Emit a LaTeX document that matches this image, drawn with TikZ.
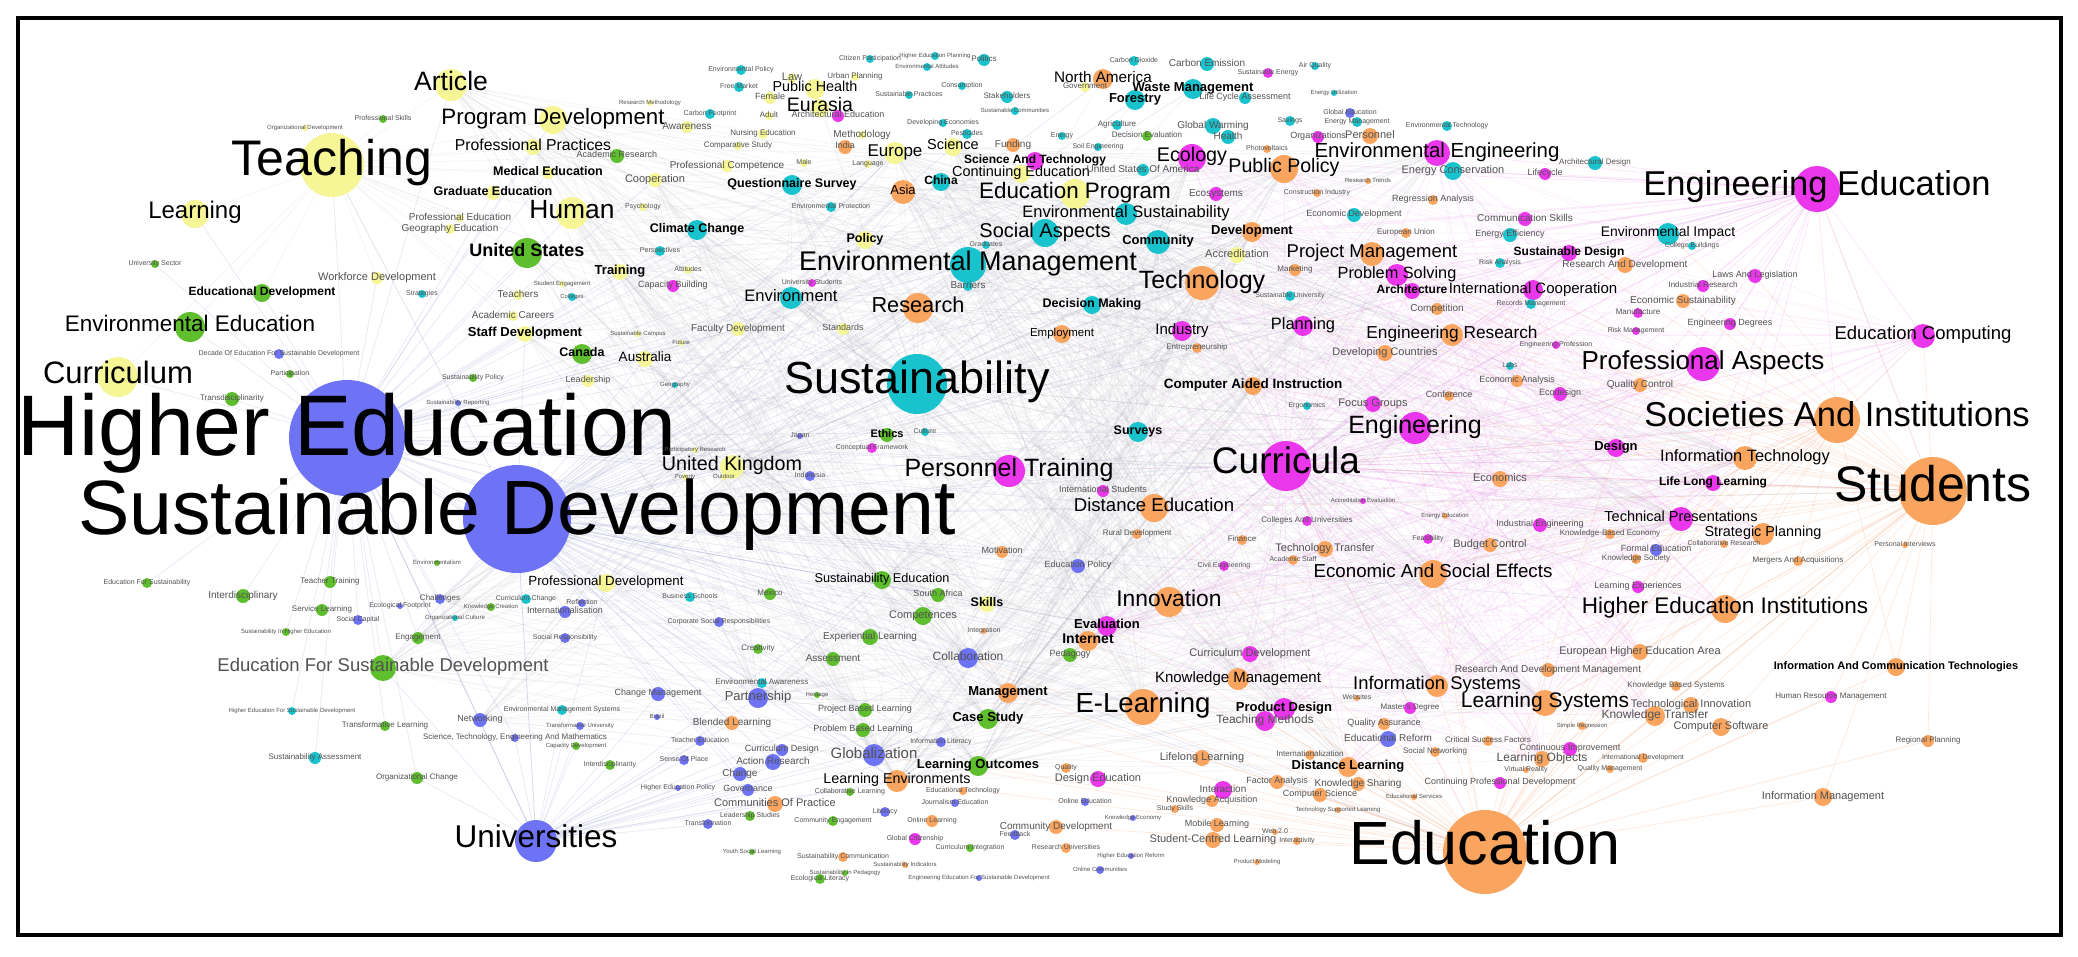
\documentclass[tikz,border=0pt]{standalone}
\usepackage{fontspec}
\setmainfont{Liberation Sans}
\pgfdeclarelayer{edges}
\pgfsetlayers{edges,main}
\definecolor{kbl}{RGB}{110,115,245}
\definecolor{kte}{RGB}{25,195,205}
\definecolor{kma}{RGB}{235,55,235}
\definecolor{kor}{RGB}{250,165,95}
\definecolor{kye}{RGB}{246,246,150}
\definecolor{kgr}{RGB}{95,190,45}
\definecolor{lnb}{RGB}{150,155,210}
\definecolor{lnp}{RGB}{235,140,235}
\definecolor{lno}{RGB}{245,175,130}
\definecolor{lng}{RGB}{165,165,180}
\tikzset{
  dot/.style={circle,inner sep=0pt,outer sep=0pt,draw=none},
  labn/.style={anchor=base,inner sep=0pt,text=black},
  labb/.style={anchor=base,inner sep=0pt,text=black,execute at begin node=\bfseries},
  labg/.style={anchor=base,inner sep=0pt,text=black!68},
  eb/.style={draw=lnb,opacity=0.22,line width=0.7pt},
  ep/.style={draw=lnp,opacity=0.22,line width=0.7pt},
  eo/.style={draw=lno,opacity=0.25,line width=0.7pt},
  eg/.style={draw=lng,opacity=0.13,line width=0.6pt},
  egp/.style={draw=lnp,opacity=0.13,line width=0.6pt},
  frame/.style={draw=black,line width=3.5pt}
}
\newcommand{\kwlist}{%
\kw{n}{HE}{347}{438}{58}{kbl}{86}{Higher Education}
\kw{n}{SD}{517}{519}{54}{kbl}{77}{Sustainable Development}
\kw{n}{Sus}{917}{384}{30}{kte}{45}{Sustainability}
\kw{n}{Teach}{332}{165}{32}{kye}{50}{Teaching}
\kw{n}{Stud}{1933}{491}{34}{kor}{50}{Students}
\kw{n}{Edu}{1485}{852}{42}{kor}{61}{Education}
\kw{n}{Curr}{1286}{466}{25}{kma}{37}{Curricula}
\kw{n}{EngEd}{1817}{189}{23}{kma}{34.5}{Engineering Education}
\kw{n}{Soc}{1837}{420}{23}{kor}{34.5}{Societies And Institutions}
\kw{n}{Univ}{536}{841}{21}{kbl}{31.5}{Universities}
\kw{n}{Curric}{118}{377}{20}{kye}{31}{Curriculum}
\kw{n}{Article}{451}{85}{16}{kye}{26.6}{Article}
\kw{n}{ProgDev}{553}{120}{14}{kye}{22.3}{Program Development}
\kw{n}{ProfPract}{533}{147}{8}{kye}{15.8}{Professional Practices}
\kw{b}{MedEd}{548}{173}{6}{kye}{12.5}{Medical Education}
\kw{b}{GradEd}{493}{193}{7}{kye}{12.5}{Graduate Education}
\kw{n}{Human}{572}{213}{16}{kye}{26.4}{Human}
\kw{n}{Learning}{195}{214}{14}{kye}{24}{Learning}
\kw{g}{ProfEd}{460}{218}{4}{kye}{10}{Professional Education}
\kw{g}{GeoEd}{450}{229}{5}{kye}{10}{Geography Education}
\kw{b}{USA}{527}{253}{15}{kgr}{18}{United States}
\kw{g}{Workforce}{377}{278}{6}{kye}{11}{Workforce Development}
\kw{b}{EduDev}{262}{293}{9}{kgr}{12}{Educational Development}
\kw{n}{EnvEd}{190}{327}{15}{kgr}{22.5}{Environmental Education}
\kw{g}{UniSector}{155}{264}{4}{kgr}{7}{University Sector}
\kw{g}{Strategies}{422}{294}{4}{kte}{7}{Strategies}
\kw{g}{Teachers}{518}{295}{5}{kye}{10}{Teachers}
\kw{g}{AcadCar}{513}{316}{5}{kye}{10}{Academic Careers}
\kw{b}{Staff}{525}{334}{8}{kye}{13}{Staff Development}
\kw{g}{ProfSkills}{383}{119}{4}{kgr}{7}{Professional Skills}
\kw{g}{OrgDev}{305}{128}{3}{kye}{6}{Organizational Development}
\kw{g}{Decade}{279}{354}{5}{kbl}{7}{Decade Of Education For Sustainable Development}
\kw{g}{Particip}{290}{374}{4}{kgr}{7}{Participation}
\kw{g}{Transdisc}{232}{399}{7}{kgr}{8}{Transdisciplinarity}
\kw{g}{SustPolicy}{473}{378}{4}{kgr}{7}{Sustainability Policy}
\kw{g}{SustRep}{458}{403}{3}{kbl}{6}{Sustainability Reporting}
\kw{g}{Envism}{437}{563}{3}{kgr}{6}{Environmentalism}
\kw{g}{EdForSust}{147}{583}{5}{kgr}{7}{Education For Sustainability}
\kw{g}{TeacherTr}{330}{582}{6}{kgr}{8}{Teacher Training}
\kw{g}{Interdisc}{243}{596}{7}{kgr}{10}{Interdisciplinary}
\kw{g}{Challenges}{440}{599}{5}{kbl}{8}{Challenges}
\kw{g}{EcoFoot}{400}{606}{3}{kbl}{7}{Ecological Footprint}
\kw{g}{ServLearn}{322}{610}{6}{kgr}{8}{Service Learning}
\kw{g}{CurrChange}{526}{599}{5}{kte}{7}{Curriculum Change}
\kw{g}{KnowCre}{491}{607}{4}{kgr}{6}{Knowledge Creation}
\kw{g}{OrgCult}{455}{618}{3}{kte}{6}{Organizational Culture}
\kw{g}{SustHE}{286}{632}{4}{kgr}{6}{Sustainability In Higher Education}
\kw{g}{SocCap}{358}{620}{5}{kbl}{7}{Social Capital}
\kw{g}{Engage}{418}{638}{6}{kgr}{8}{Engagement}
\kw{g}{ESD}{383}{668}{13}{kgr}{18.5}{Education For Sustainable Development}
\kw{g}{HESD}{292}{711}{4}{kte}{6}{Higher Education For Sustainable Development}
\kw{g}{TransLearn}{385}{726}{5}{kgr}{8}{Transformative Learning}
\kw{g}{Networking}{480}{720}{7}{kbl}{9}{Networking}
\kw{g}{STEM}{515}{738}{4}{kbl}{8}{Science, Technology, Engineering And Mathematics}
\kw{g}{SustAssess}{315}{758}{6}{kte}{8}{Sustainability Assessment}
\kw{g}{OrgChange}{417}{778}{6}{kgr}{8}{Organizational Change}
\kw{g}{ResMeth}{650}{103}{3}{kye}{6}{Research Methodology}
\kw{g}{Awareness}{687}{127}{6}{kye}{10}{Awareness}
\kw{g}{CarbonFoot}{710}{114}{5}{kte}{7}{Carbon Footprint}
\kw{g}{AcadRes}{617}{156}{7}{kgr}{9}{Academic Research}
\kw{g}{NursEd}{763}{134}{5}{kye}{8}{Nursing Education}
\kw{g}{CompStudy}{738}{146}{4}{kye}{8}{Comparative Study}
\kw{g}{ProfComp}{727}{166}{6}{kye}{10}{Professional Competence}
\kw{g}{Male}{804}{163}{4}{kye}{7}{Male}
\kw{g}{Cooperation}{655}{180}{7}{kye}{11}{Cooperation}
\kw{g}{Psychology}{643}{207}{4}{kye}{7}{Psychology}
\kw{b}{ClimCh}{697}{230}{10}{kte}{12.5}{Climate Change}
\kw{g}{Perspect}{660}{251}{5}{kte}{7}{Perspectives}
\kw{b}{Training}{620}{272}{8}{kye}{13}{Training}
\kw{g}{Attitudes}{688}{270}{4}{kye}{7}{Attitudes}
\kw{g}{CapBuild}{673}{286}{6}{kma}{9}{Capacity Building}
\kw{g}{StudEng}{562}{284}{3}{kye}{6}{Student Engagement}
\kw{g}{Colleges}{572}{297}{4}{kte}{6}{Colleges}
\kw{g}{EnvPolicy}{741}{70}{5}{kte}{7}{Environmental Policy}
\kw{g}{FreeMarket}{739}{87}{5}{kte}{7}{Free Market}
\kw{g}{Law}{792}{78}{5}{kye}{11}{Law}
\kw{n}{PubHealth}{815}{89}{10}{kye}{14.4}{Public Health}
\kw{g}{Female}{770}{98}{6}{kye}{9}{Female}
\kw{n}{Eurasia}{820}{108}{9}{kye}{19.5}{Eurasia}
\kw{g}{Adult}{769}{116}{4}{kye}{8}{Adult}
\kw{g}{ArchEd}{838}{116}{6}{kma}{9}{Architectural Education}
\kw{g}{UrbanPlan}{855}{77}{4}{kye}{8}{Urban Planning}
\kw{g}{Methodology}{862}{135}{4}{kye}{10}{Methodology}
\kw{g}{India}{845}{147}{7}{kor}{9}{India}
\kw{n}{Europe}{895}{153}{11}{kye}{17}{Europe}
\kw{g}{Language}{868}{164}{4}{kye}{7}{Language}
\kw{n}{Science}{953}{147}{9}{kye}{14.5}{Science}
\kw{g}{Funding}{1013}{145}{7}{kor}{10}{Funding}
\kw{b}{QS}{792}{185}{10}{kte}{12.5}{Questionnaire Survey}
\kw{n}{Asia}{903}{192}{12}{kor}{13}{Asia}
\kw{b}{China}{941}{182}{9}{kte}{12}{China}
\kw{b}{SciTech}{1035}{161}{9}{kma}{12}{Science And Technology}
\kw{n}{ContEd}{1021}{174}{9}{kye}{14.5}{Continuing Education}
\kw{n}{EduProg}{1075}{194}{15}{kye}{22.4}{Education Program}
\kw{g}{EnvProt}{831}{207}{5}{kte}{7}{Environmental Protection}
\kw{b}{Policy}{865}{240}{9}{kye}{12.5}{Policy}
\kw{n}{SocAsp}{1045}{233}{14}{kte}{20}{Social Aspects}
\kw{n}{EnvSust}{1126}{214}{11}{kte}{16.5}{Environmental Sustainability}
\kw{g}{Graduates}{986}{245}{4}{kte}{7}{Graduates}
\kw{n}{EnvMgmt}{968}{265}{18}{kte}{27}{Environmental Management}
\kw{g}{UniStud}{812}{283}{4}{kma}{7}{University Students}
\kw{g}{Barriers}{968}{286}{5}{kte}{10}{Barriers}
\kw{n}{Environment}{791}{298}{11}{kte}{16.6}{Environment}
\kw{n}{Research}{918}{308}{15}{kor}{21.7}{Research}
\kw{g}{Citizen}{870}{59}{4}{kte}{7}{Citizen Participation}
\kw{g}{HEPlan}{935}{56}{4}{kte}{6}{Higher Education Planning}
\kw{g}{Politics}{984}{60}{6}{kte}{8}{Politics}
\kw{g}{EnvAtt}{927}{67}{4}{kte}{6}{Environmental Attitudes}
\kw{g}{Consump}{962}{86}{4}{kte}{7}{Consumption}
\kw{g}{SustPract}{909}{95}{4}{kte}{7}{Sustainable Practices}
\kw{g}{Stakeh}{1007}{97}{6}{kte}{8}{Stakeholders}
\kw{g}{SustComm}{1015}{111}{4}{kte}{6}{Sustainable Communities}
\kw{g}{DevEcon}{943}{123}{4}{kte}{7}{Developing Economies}
\kw{g}{Pesticides}{967}{134}{5}{kte}{7}{Pesticides}
\kw{n}{NorthAm}{1103}{79}{10}{kor}{15.3}{North America}
\kw{g}{CO2}{1134}{61}{5}{kte}{7}{Carbon Dioxide}
\kw{g}{CarbonEm}{1207}{64}{7}{kte}{10}{Carbon Emission}
\kw{g}{Govt}{1085}{87}{5}{kye}{8}{Government}
\kw{b}{WasteMgmt}{1193}{89}{10}{kte}{13}{Waste Management}
\kw{b}{Forestry}{1135}{100}{10}{kte}{13}{Forestry}
\kw{g}{LCA}{1245}{98}{6}{kte}{9}{Life Cycle Assessment}
\kw{g}{SustEnergy}{1268}{73}{5}{kma}{7}{Sustainable Energy}
\kw{g}{AirQual}{1315}{66}{4}{kte}{7}{Air Quality}
\kw{g}{EnergyUtil}{1334}{93}{3}{kte}{6}{Energy Utilization}
\kw{g}{Agri}{1117}{125}{5}{kte}{8}{Agriculture}
\kw{g}{GlobWarm}{1213}{126}{8}{kte}{10}{Global Warming}
\kw{g}{Savings}{1290}{121}{5}{kte}{7}{Savings}
\kw{g}{GlobEd}{1350}{113}{5}{kbl}{7}{Global Education}
\kw{g}{EnergyMgmt}{1357}{122}{5}{kte}{7}{Energy Management}
\kw{g}{EnvTech}{1447}{126}{5}{kte}{7}{Environmental Technology}
\kw{g}{Energy}{1062}{136}{4}{kte}{7}{Energy}
\kw{g}{DecEval}{1147}{136}{5}{kgr}{8}{Decision Evaluation}
\kw{g}{Health}{1228}{137}{7}{kte}{10}{Health}
\kw{g}{Organiz}{1318}{137}{6}{kma}{9}{Organizations}
\kw{g}{Personnel}{1370}{136}{8}{kor}{11}{Personnel}
\kw{g}{SoilEng}{1098}{147}{4}{kte}{7}{Soil Engineering}
\kw{g}{Photov}{1267}{149}{4}{kor}{7}{Photovoltaics}
\kw{n}{Ecology}{1192}{158}{14}{kma}{19.7}{Ecology}
\kw{n}{PubPol}{1284}{169}{14}{kor}{19.6}{Public Policy}
\kw{g}{USOA}{1143}{170}{6}{kte}{10}{United States Of America}
\kw{n}{EnvEng}{1437}{153}{13}{kma}{20.4}{Environmental Engineering}
\kw{g}{EnergyCons}{1453}{171}{9}{kte}{11}{Energy Conservation}
\kw{g}{Lifecycle}{1545}{174}{6}{kma}{9}{Lifecycle}
\kw{g}{ResTrends}{1368}{181}{3}{kor}{6}{Research Trends}
\kw{g}{Ecosys}{1216}{194}{7}{kma}{10}{Ecosystems}
\kw{g}{ConstrInd}{1317}{193}{4}{kor}{7}{Construction Industry}
\kw{g}{Regression}{1433}{200}{5}{kor}{9}{Regression Analysis}
\kw{g}{EconDev}{1354}{215}{7}{kte}{9}{Economic Development}
\kw{g}{CommSkills}{1525}{219}{7}{kma}{10}{Communication Skills}
\kw{g}{EnergyEff}{1510}{235}{7}{kte}{9}{Energy Efficiency}
\kw{g}{EU}{1406}{233}{5}{kor}{8}{European Union}
\kw{b}{Devel}{1252}{232}{10}{kor}{13}{Development}
\kw{b}{Community}{1158}{242}{12}{kte}{13}{Community}
\kw{g}{Accred}{1237}{255}{8}{kye}{11}{Accreditation}
\kw{n}{ProjMgmt}{1372}{254}{12}{kor}{18.5}{Project Management}
\kw{g}{Marketing}{1295}{270}{6}{kor}{8}{Marketing}
\kw{n}{Tech}{1202}{283}{17}{kor}{25}{Technology}
\kw{n}{ProbSolv}{1397}{275}{11}{kma}{16.3}{Problem Solving}
\kw{b}{Architecture}{1412}{291}{8}{kma}{12}{Architecture}
\kw{n}{IntCoop}{1533}{290}{10}{kma}{15}{International Cooperation}
\kw{b}{SustDesign}{1569}{253}{8}{kma}{12}{Sustainable Design}
\kw{g}{RiskAn}{1500}{263}{5}{kte}{7}{Risk Analysis}
\kw{g}{SustUniv}{1290}{296}{5}{kte}{7}{Sustainable University}
\kw{b}{DecMaking}{1092}{305}{9}{kte}{12.5}{Decision Making}
\kw{g}{Competition}{1437}{309}{6}{kor}{10}{Competition}
\kw{g}{RecMgmt}{1531}{304}{5}{kte}{7}{Records Management}
\kw{g}{ArchDesign}{1595}{163}{7}{kte}{8}{Architectural Design}
\kw{n}{EnvImpact}{1668}{234}{11}{kte}{13.9}{Environmental Impact}
\kw{g}{CollBuild}{1692}{246}{4}{kte}{7}{College Buildings}
\kw{g}{RnD}{1625}{265}{8}{kor}{10}{Research And Development}
\kw{g}{LawsLeg}{1755}{276}{7}{kma}{9}{Laws And Legislation}
\kw{g}{IndRes}{1703}{286}{6}{kma}{8}{Industrial Research}
\kw{g}{EconSust}{1683}{301}{7}{kor}{10}{Economic Sustainability}
\kw{g}{Manuf}{1638}{313}{5}{kma}{8}{Manufacture}
\kw{g}{FacDev}{738}{329}{7}{kye}{10}{Faculty Development}
\kw{g}{Standards}{843}{329}{6}{kye}{9}{Standards}
\kw{g}{SustCampus}{638}{334}{3}{kye}{6}{Sustainable Campus}
\kw{g}{Future}{681}{343}{3}{kye}{6}{Future}
\kw{b}{Canada}{582}{354}{10}{kgr}{12.5}{Canada}
\kw{n}{Australia}{645}{359}{8}{kye}{13.5}{Australia}
\kw{g}{Leadership}{588}{381}{6}{kye}{9}{Leadership}
\kw{g}{Geography}{675}{385}{3}{kte}{6}{Geography}
\kw{n}{Employment}{1062}{334}{9}{kor}{11.5}{Employment}
\kw{n}{Industry}{1182}{331}{10}{kma}{15}{Industry}
\kw{n}{Planning}{1303}{326}{10}{kma}{16.5}{Planning}
\kw{n}{EngRes}{1452}{335}{11}{kor}{17.3}{Engineering Research}
\kw{g}{Entrep}{1197}{348}{5}{kor}{8}{Entrepreneurship}
\kw{g}{DevCountries}{1385}{353}{8}{kor}{11}{Developing Countries}
\kw{g}{Labs}{1510}{366}{4}{kte}{7}{Labs}
\kw{g}{EngProf}{1556}{345}{4}{kma}{7}{Engineering Profession}
\kw{g}{RiskMgmt}{1636}{331}{4}{kma}{7}{Risk Management}
\kw{g}{EngDeg}{1730}{324}{6}{kma}{9}{Engineering Degrees}
\kw{n}{EduComp}{1923}{336}{12}{kma}{18.5}{Education Computing}
\kw{n}{ProfAsp}{1703}{364}{17}{kma}{26}{Professional Aspects}
\kw{b}{CAI}{1253}{386}{9}{kor}{13.5}{Computer Aided Instruction}
\kw{g}{EconAn}{1517}{381}{6}{kor}{9}{Economic Analysis}
\kw{g}{QC}{1640}{385}{7}{kor}{10}{Quality Control}
\kw{g}{Ecodesign}{1560}{394}{7}{kma}{9}{Ecodesign}
\kw{g}{Ergonomics}{1307}{406}{4}{kte}{7}{Ergonomics}
\kw{g}{FocusGr}{1373}{404}{8}{kma}{11}{Focus Groups}
\kw{g}{Conference}{1449}{396}{5}{kor}{9}{Conference}
\kw{n}{Eng}{1415}{428}{16}{kma}{25}{Engineering}
\kw{b}{Surveys}{1138}{432}{10}{kte}{12.5}{Surveys}
\kw{b}{Ethics}{887}{435}{7}{kgr}{11}{Ethics}
\kw{g}{Culture}{925}{432}{4}{kte}{7}{Culture}
\kw{g}{Japan}{800}{436}{3}{kbl}{7}{Japan}
\kw{g}{ConcFrame}{872}{448}{5}{kma}{7}{Conceptual Framework}
\kw{b}{Design}{1616}{448}{9}{kma}{13}{Design}
\kw{n}{InfoTech}{1745}{458}{12}{kor}{16.4}{Information Technology}
\kw{n}{UK}{732}{467}{12}{kye}{19.7}{United Kingdom}
\kw{g}{Particip2}{695}{450}{3}{kye}{6}{Participatory Research}
\kw{g}{Poverty}{685}{477}{3}{kye}{6}{Poverty}
\kw{g}{Outdoor}{724}{477}{3}{kye}{6}{Outdoor}
\kw{g}{Indonesia}{810}{476}{5}{kbl}{7}{Indonesia}
\kw{n}{PersTr}{1009}{471}{16}{kma}{25}{Personnel Training}
\kw{g}{Economics}{1500}{479}{8}{kor}{11}{Economics}
\kw{b}{LLL}{1713}{483}{8}{kma}{12}{Life Long Learning}
\kw{g}{IntStud}{1103}{491}{6}{kma}{9}{International Students}
\kw{n}{DistEd}{1154}{508}{14}{kor}{18.6}{Distance Education}
\kw{g}{AccEval}{1363}{501}{3}{kma}{6}{Accreditation Evaluation}
\kw{g}{EnergyEd}{1445}{516}{3}{kor}{6}{Energy Education}
\kw{g}{CollUni}{1307}{521}{5}{kma}{8}{Colleges And Universities}
\kw{g}{IndEng}{1540}{525}{7}{kma}{9}{Industrial Engineering}
\kw{n}{TechPres}{1681}{519}{12}{kma}{14.5}{Technical Presentations}
\kw{n}{StratPlan}{1763}{534}{11}{kor}{14.4}{Strategic Planning}
\kw{g}{KBE}{1610}{534}{5}{kor}{8}{Knowledge-Based Economy}
\kw{g}{CollabRes}{1724}{544}{4}{kor}{7}{Collaborative Research}
\kw{g}{FormalEd}{1656}{550}{6}{kbl}{9}{Formal Education}
\kw{g}{KnowSoc}{1636}{559}{5}{kor}{8}{Knowledge Society}
\kw{g}{Mergers}{1798}{561}{5}{kor}{8}{Mergers And Acquisitions}
\kw{g}{PersInt}{1905}{545}{3}{kor}{7}{Personal Interviews}
\kw{g}{RuralDev}{1137}{534}{5}{kor}{8}{Rural Development}
\kw{g}{Finance}{1242}{540}{5}{kor}{8}{Finance}
\kw{g}{Feasib}{1428}{539}{5}{kma}{7}{Feasibility}
\kw{g}{BudgetCtrl}{1490}{545}{7}{kor}{11}{Budget Control}
\kw{g}{TechTransfer}{1325}{549}{8}{kor}{11}{Technology Transfer}
\kw{g}{AcadStaff}{1293}{560}{5}{kor}{7}{Academic Staff}
\kw{g}{CivilEng}{1224}{566}{5}{kma}{7}{Civil Engineering}
\kw{g}{EduPolicy}{1078}{566}{7}{kbl}{9}{Education Policy}
\kw{g}{Motivation}{1002}{552}{6}{kor}{9}{Motivation}
\kw{n}{EconSoc}{1433}{574}{14}{kor}{18.7}{Economic And Social Effects}
\kw{g}{LearnExp}{1638}{587}{6}{kma}{9}{Learning Experiences}
\kw{n}{HEI}{1725}{609}{14}{kor}{22.5}{Higher Education Institutions}
\kw{n}{SusEd}{882}{580}{9}{kgr}{12.7}{Sustainability Education}
\kw{n}{ProfDev}{606}{583}{9}{kye}{13.3}{Professional Development}
\kw{g}{SouthAfrica}{938}{595}{7}{kgr}{9}{South Africa}
\kw{b}{Skills}{987}{604}{8}{kye}{12.5}{Skills}
\kw{g}{Competences}{923}{616}{9}{kgr}{11}{Competences}
\kw{g}{BusSchools}{690}{597}{5}{kte}{7}{Business Schools}
\kw{g}{Mexico}{770}{594}{6}{kgr}{8}{Mexico}
\kw{g}{Reflection}{582}{603}{4}{kbl}{7}{Reflection}
\kw{g}{Internat}{565}{612}{6}{kbl}{9}{Internationalisation}
\kw{g}{CSR}{719}{622}{5}{kbl}{7}{Corporate Social Responsibilities}
\kw{g}{Integration}{984}{631}{3}{kor}{7}{Integration}
\kw{n}{Innov}{1169}{602}{15}{kor}{22.8}{Innovation}
\kw{b}{Evaluation}{1107}{626}{10}{kma}{13}{Evaluation}
\kw{b}{Internet}{1088}{641}{10}{kor}{14}{Internet}
\kw{g}{Pedagogy}{1070}{655}{7}{kgr}{9}{Pedagogy}
\kw{g}{ExpLearn}{870}{637}{8}{kgr}{10}{Experiential Learning}
\kw{g}{SocResp}{565}{638}{5}{kbl}{7}{Social Responsibility}
\kw{g}{Creativity}{758}{649}{5}{kgr}{8}{Creativity}
\kw{g}{Assessment}{833}{659}{7}{kgr}{10}{Assessment}
\kw{g}{Collab}{968}{658}{10}{kbl}{12}{Collaboration}
\kw{g}{CurrDev}{1250}{654}{8}{kma}{11}{Curriculum Development}
\kw{n}{KnowMgmt}{1238}{679}{11}{kor}{15}{Knowledge Management}
\kw{g}{EHEA}{1640}{652}{8}{kor}{11}{European Higher Education Area}
\kw{g}{RDM}{1548}{670}{7}{kor}{10}{Research And Development Management}
\kw{b}{ICT}{1896}{667}{9}{kor}{11}{Information And Communication Technologies}
\kw{n}{InfoSys}{1437}{686}{11}{kor}{18.4}{Information Systems}
\kw{g}{KBS}{1676}{686}{5}{kor}{8}{Knowledge Based Systems}
\kw{b}{Management}{1008}{693}{10}{kor}{13}{Management}
\kw{g}{EnvAware}{762}{683}{5}{kte}{8}{Environmental Awareness}
\kw{g}{ChangeMgmt}{658}{694}{7}{kbl}{9}{Change Management}
\kw{g}{Partnership}{758}{698}{10}{kbl}{13}{Partnership}
\kw{g}{Heritage}{817}{695}{3}{kgr}{6}{Heritage}
\kw{g}{HRM}{1831}{697}{6}{kma}{8}{Human Resource Management}
\kw{n}{Elearn}{1143}{707}{18}{kor}{27.6}{E-Learning}
\kw{b}{ProdDesign}{1284}{709}{11}{kma}{13}{Product Design}
\kw{n}{LearnSys}{1545}{703}{13}{kor}{21}{Learning Systems}
\kw{g}{Websites}{1357}{698}{3}{kor}{7}{Websites}
\kw{g}{MastersDeg}{1410}{708}{6}{kma}{8}{Master's Degree}
\kw{g}{TechInnov}{1691}{705}{8}{kor}{11}{Technological Innovation}
\kw{g}{KnowTrans}{1655}{716}{10}{kor}{12}{Knowledge Transfer}
\kw{g}{CompSoft}{1721}{727}{9}{kor}{11}{Computer Software}
\kw{g}{SimpleReg}{1582}{726}{4}{kor}{6}{Simple Regression}
\kw{g}{EnvMgmtSys}{562}{710}{5}{kte}{7}{Environmental Management Systems}
\kw{b}{CaseStudy}{988}{719}{10}{kgr}{13}{Case Study}
\kw{g}{Brazil}{657}{717}{3}{kbl}{6}{Brazil}
\kw{g}{PBL}{865}{710}{7}{kgr}{9}{Project Based Learning}
\kw{g}{BlendLearn}{732}{723}{7}{kor}{10}{Blended Learning}
\kw{g}{TeachMeth}{1265}{721}{10}{kma}{12}{Teaching Methods}
\kw{g}{QA}{1384}{724}{6}{kor}{9}{Quality Assurance}
\kw{g}{TransUni}{580}{726}{4}{kbl}{6}{Transformative University}
\kw{g}{PrBL}{863}{730}{7}{kgr}{9}{Problem Based Learning}
\kw{g}{EdReform}{1388}{739}{8}{kbl}{10}{Educational Reform}
\kw{g}{CSF}{1488}{741}{5}{kor}{8}{Critical Success Factors}
\kw{g}{RegPlan}{1928}{741}{6}{kor}{8}{Regional Planning}
\kw{g}{TeacherEd}{700}{741}{5}{kbl}{7}{Teacher Education}
\kw{g}{InfoLit}{941}{742}{5}{kbl}{7}{Information Literacy}
\kw{g}{CapDev}{576}{746}{4}{kgr}{6}{Capacity Development}
\kw{g}{ContImp}{1570}{749}{7}{kma}{9}{Continuous Improvement}
\kw{g}{CurrDesign}{782}{750}{6}{kbl}{9}{Curriculum Design}
\kw{g}{SocNet}{1435}{752}{5}{kor}{8}{Social Networking}
\kw{g}{Globaliz}{874}{755}{11}{kbl}{15}{Globalization}
\kw{g}{IntlDev}{1643}{758}{5}{kor}{7}{International Development}
\kw{g}{Internationalization}{1310}{755}{5}{kor}{8}{Internationalization}
\kw{g}{LifelongL}{1202}{758}{8}{kor}{11}{Lifelong Learning}
\kw{g}{LearnObj}{1542}{759}{8}{kor}{12}{Learning Objects}
\kw{g}{SenseOfPlace}{684}{760}{5}{kbl}{7}{Sense Of Place}
\kw{g}{ActionRes}{773}{762}{8}{kbl}{10}{Action Research}
\kw{b}{LearnOut}{978}{766}{10}{kgr}{13}{Learning Outcomes}
\kw{g}{Interdisc2}{610}{765}{5}{kgr}{7}{Interdisciplinarity}
\kw{b}{DistLearn}{1348}{767}{10}{kor}{13}{Distance Learning}
\kw{g}{QualMgmt}{1610}{769}{4}{kor}{7}{Quality Management}
\kw{g}{VR}{1526}{770}{3}{kor}{7}{Virtual Reality}
\kw{g}{Quality}{1066}{768}{5}{kor}{7}{Quality}
\kw{g}{Change}{740}{774}{7}{kbl}{10}{Change}
\kw{n}{LearnEnv}{897}{781}{11}{kor}{14.3}{Learning Environments}
\kw{g}{DesignEd}{1098}{779}{8}{kma}{11}{Design Education}
\kw{g}{FactorAn}{1277}{782}{7}{kor}{9}{Factor Analysis}
\kw{g}{KnowShare}{1358}{784}{7}{kor}{10}{Knowledge Sharing}
\kw{g}{CPD}{1500}{783}{6}{kma}{9}{Continuing Professional Development}
\kw{g}{Interaction}{1223}{790}{9}{kma}{10}{Interaction}
\kw{g}{HEPolicy}{678}{788}{3}{kbl}{7}{Higher Education Policy}
\kw{g}{Governance}{748}{790}{6}{kbl}{9}{Governance}
\kw{g}{CollabLearn}{850}{792}{4}{kgr}{7}{Collaborative Learning}
\kw{g}{EduTech}{963}{791}{4}{kor}{7}{Educational Technology}
\kw{g}{CompSci}{1320}{795}{7}{kor}{9}{Computer Science}
\kw{g}{EduServ}{1414}{797}{3}{kor}{6}{Educational Services}
\kw{g}{InfoMgmt}{1823}{797}{9}{kor}{11}{Information Management}
\kw{g}{KnowAcq}{1212}{801}{6}{kor}{9}{Knowledge Acquisition}
\kw{g}{OnlineEd}{1085}{802}{4}{kbl}{7}{Online Education}
\kw{g}{CoP}{775}{804}{8}{kor}{11}{Communities Of Practice}
\kw{g}{JournEd}{955}{803}{4}{kbl}{7}{Journalism Education}
\kw{g}{StudySkills}{1175}{809}{4}{kor}{7}{Study Skills}
\kw{g}{TechSupp}{1338}{810}{3}{kor}{6}{Technology Supported Learning}
\kw{g}{Literacy}{885}{812}{5}{kbl}{7}{Literacy}
\kw{g}{LeadStud}{750}{816}{5}{kgr}{7}{Leadership Studies}
\kw{g}{KnowEcon}{1133}{818}{3}{kbl}{6}{Knowledge Economy}
\kw{g}{CommEng}{833}{821}{5}{kgr}{7}{Community Engagement}
\kw{g}{OnlineL}{932}{821}{6}{kor}{7}{Online Learning}
\kw{g}{Transformation}{708}{824}{5}{kbl}{7}{Transformation}
\kw{g}{MobileL}{1217}{825}{7}{kor}{9}{Mobile Learning}
\kw{g}{CommDev}{1056}{827}{7}{kor}{10}{Community Development}
\kw{g}{Web}{1275}{832}{3}{kor}{7}{Web 2.0}
\kw{g}{Feedback}{1015}{835}{5}{kbl}{7}{Feedback}
\kw{g}{GlobCit}{915}{839}{6}{kma}{7}{Global Citizenship}
\kw{g}{SCL}{1213}{840}{8}{kor}{11}{Student-Centred Learning}
\kw{g}{Interactivity}{1297}{841}{4}{kor}{7}{Interactivity}
\kw{g}{ResUni}{1066}{848}{5}{kor}{7}{Research Universities}
\kw{g}{CurrInteg}{970}{848}{4}{kgr}{7}{Curriculum Integration}
\kw{g}{YouthSL}{752}{852}{3}{kgr}{6}{Youth Social Learning}
\kw{g}{HERef}{1131}{856}{3}{kbl}{6}{Higher Education Reform}
\kw{g}{SustCommun}{843}{857}{5}{kor}{7}{Sustainability Communication}
\kw{g}{ProdModel}{1257}{862}{3}{kor}{6}{Product Modeling}
\kw{g}{SustInd}{905}{865}{3}{kor}{6}{Sustainability Indicators}
\kw{g}{OnlineComm}{1100}{870}{4}{kbl}{6}{Online Communities}
\kw{g}{SustPed}{845}{873}{3}{kgr}{6}{Sustainability In Pedagogy}
\kw{g}{EcoLit}{820}{879}{5}{kgr}{7}{Ecological Literacy}
\kw{g}{EESD}{979}{878}{3}{kbl}{6}{Engineering Education For Sustainable Development}
}
\begin{document}
\begin{tikzpicture}[x=1pt,y=-1pt]
\useasboundingbox (0,0) rectangle (2078,956);
% pass 1: the keyword circles
\def\kw#1#2#3#4#5#6#7#8{\node[dot,fill=#6,minimum size={2*#5pt}] (#2) at (#3,#4) {};}
\kwlist
% pass 2: the labels on top of all circles
\def\kw#1#2#3#4#5#6#7#8{\node[lab#1,font=\fontsize{#7}{#7}\selectfont] (#2l) at (#3,{#4+0.2*#7}) {#8};}
\kwlist
% edges behind everything
\begin{pgfonlayer}{edges}
\fill[white] (0,0) rectangle (2078,956);
\foreach \t in {Teach,Learning,Curric,EnvEd,EduDev,USA,Human,ProfPract,GradEd,MedEd,Staff,Canada,Australia,UK,ProfDev,ESD,Univ,Article,ProgDev,Training,ClimCh,Sus,EnvMgmt,Research,PersTr,Curr,Environment,Policy,Globaliz,Partnership,Collab,SusEd,Skills,Stud,Edu,Elearn,Innov,LearnEnv,Europe,QS,Workforce,Decade,Transdisc,Interdisc,TeacherTr,ServLearn,Challenges,SocCap,Engage,SustHE,EdForSust,UniSector,Networking,OrgChange,SustAssess,TransLearn,HESD,STEM,Leadership,FacDev,Cooperation,Eng,DistEd,Tech,SocAsp}
  {\draw[eb] (HE) -- (\t);}
\foreach \t in {Sus,EnvMgmt,SocAsp,EnvSust,EduProg,Community,DecMaking,Tech,Curr,Eng,DistEd,EconSoc,Innov,Internet,Evaluation,Management,CaseStudy,LearnOut,Globaliz,LearnEnv,Partnership,Univ,ESD,ProfDev,SusEd,Skills,Ethics,KnowMgmt,Elearn,ProjMgmt,Industry,Planning,Edu,Stud,Soc,HEI,EngEd,Research,Asia,China,Europe,Science,ContEd,NorthAm,WasteMgmt,Forestry,Ecology,PubPol,EnvEng,Competences,ExpLearn,Assessment,ChangeMgmt,BlendLearn,PBL,PrBL,CurrDesign,ActionRes,Change,Governance,CoP,Mexico,SouthAfrica,CSR,Internat,BusSchools,Motivation,EduPolicy,Surveys,UK,Canada,Australia,Staff,Teach,HE}
  {\draw[eb] (SD) -- (\t);}
\foreach \t in {EnvMgmt,Research,Environment,Policy,SocAsp,EnvSust,EduProg,Community,DecMaking,Europe,Science,Asia,China,SusEd,Skills,PersTr,Collab,Partnership,Globaliz,LearnEnv,LearnOut,CaseStudy,Management,Tech,Curr,Surveys,Employment,ClimCh,QS,WasteMgmt,Forestry,Ecology,NorthAm,PubHealth,Eurasia,Devel,Industry,CAI,Ethics,UK,Human,ProgDev,Article,Eng,Innov,DistEd,Standards,FacDev,Barriers,Graduates}
  {\draw[eg] (Sus) -- (\t);}
\foreach \t in {Eng,Tech,ProjMgmt,ProbSolv,EngRes,Industry,Planning,CAI,DistEd,Innov,EconSoc,Elearn,KnowMgmt,InfoSys,LearnSys,ProdDesign,DistLearn,Internet,Evaluation,Surveys,EnvEng,Ecology,PubPol,Devel,Architecture,IntCoop,SustDesign,ProfAsp,Design,TechPres,LLL,InfoTech,StratPlan,HEI,Edu,Stud,Soc,EngEd,EduComp,TeachMeth,LearnObj,Economics,TechTransfer,BudgetCtrl,FocusGr,DevCountries,CurrDev,Employment,PersTr,Community}
  {\draw[ep] (Curr) -- (\t);}
\foreach \t in {Soc,EngEd,ProfAsp,EduComp,HEI,InfoTech,TechPres,StratPlan,LLL,Design,ICT,EnvImpact,IntCoop,SustDesign,Edu,Eng,EngRes,Curr,Tech,ProjMgmt,EconSoc,InfoSys,LearnSys,KnowTrans,LearnObj,Innov,DistEd,CAI,Planning,ProbSolv,Architecture,RegPlan,InfoMgmt,HRM,Mergers,PersInt,QC,EconSust,LawsLeg,EngDeg,Economics,IndEng,BudgetCtrl,EHEA,TechInnov,CompSoft,KBS}
  {\draw[eo] (Stud) -- (\t);}
\foreach \t in {Soc,ProfAsp,EduComp,EnvImpact,IntCoop,SustDesign,EnvEng,ProjMgmt,ProbSolv,Architecture,Eng,EngRes,Curr,Tech,Planning,Industry,Design,LLL,TechPres,InfoTech,PubPol,Ecology,Devel,Community,ArchDesign,RnD,LawsLeg,IndRes,EconSust,CommSkills,EnergyEff,EnergyCons,Lifecycle,Stud,EngDeg,QC,Economics}
  {\draw[ep] (EngEd) -- (\t);}
\foreach \t in {Elearn,KnowMgmt,InfoSys,LearnSys,ProdDesign,DistLearn,TeachMeth,LearnObj,KnowTrans,Innov,HEI,StratPlan,TechPres,EconSoc,Curr,Stud,Soc,Internet,Evaluation,Management,LearnEnv,LearnOut,CaseStudy,Globaliz,Collab,DistEd,ICT,Eng,Design,InfoTech,LLL,InfoMgmt,RegPlan,HRM,CompSoft,TechInnov,EHEA,RDM,ContImp,CPD,KnowShare,CompSci,SCL,MobileL,Interaction,LifelongL,DesignEd,CommDev,FactorAn,EdReform,QA,CurrDev}
  {\draw[eo] (Edu) -- (\t);}
\foreach \t in {ProfAsp,EduComp,HEI,InfoTech,TechPres,StratPlan,LLL,Design,ICT,EngRes,Eng,Curr,EconSoc,LearnSys,Economics,QC,KBE,FormalEd,KnowSoc,Mergers,LearnExp}
  {\draw[eo] (Soc) -- (\t);}
\foreach \t in {SD,HE,ESD,Globaliz,Partnership,LearnEnv,Collab,LearnOut,CaseStudy,Management,Elearn,SusEd,ProfDev,Networking,STEM,OrgChange,Change,ActionRes,CoP,Governance,CurrDesign,Transformation,HEPolicy,EnvMgmtSys,TransUni,CapDev,Interdisc2,TeacherEd,SenseOfPlace,BlendLearn,ChangeMgmt}
  {\draw[eb] (Univ) -- (\t);}
\foreach \t in {Learning,Article,ProgDev,ProfPract,Human,GradEd,MedEd,USA,EduDev,EnvEd,Curric,Staff,Training,Sus,SD,ProfEd,GeoEd,Workforce,OrgDev,ProfSkills,Cooperation,AcadRes,Awareness,Teachers,AcadCar}
  {\draw[eg] (Teach) -- (\t);}
\foreach \a in {Sus,EnvMgmt,Research,Environment,Policy,SocAsp,EnvSust,EduProg,Community,DecMaking,Europe,Science,Asia,China,SusEd,Skills,Collab,Partnership,Globaliz,LearnEnv,LearnOut,CaseStudy,Management,PersTr,UK,Ethics}
  {\foreach \b in {Eng,Tech,ProjMgmt,ProbSolv,EngRes,Industry,Planning,CAI,DistEd,Innov,EconSoc,Elearn,KnowMgmt,InfoSys,LearnSys,ProdDesign,DistLearn,Internet,Evaluation,Surveys,EnvEng,Ecology,PubPol,Devel,TechPres,InfoTech}
    {\draw[eg] (\a) -- (\b);}}
\foreach \a in {Human,ProgDev,Article,USA,Staff,Canada,Australia,UK,ProfDev,ESD,Training,ClimCh,QS,Cooperation,Networking,ProfPract,Challenges,Engage}
  {\foreach \b in {Sus,EnvMgmt,Research,Environment,Policy,SocAsp,EduProg,Europe,Asia,SusEd,Skills,Collab,Partnership,Globaliz,LearnEnv,LearnOut,CaseStudy,Management,PersTr,Ethics}
    {\draw[eg] (\a) -- (\b);}}
\foreach \a in {Eng,Tech,ProjMgmt,ProbSolv,EngRes,Industry,Planning,CAI,DistEd,Innov,EconSoc,Elearn,KnowMgmt,InfoSys,LearnSys,ProdDesign,DistLearn,Internet,Evaluation,Surveys,EnvEng,Ecology,PubPol,Devel,Curr}
  {\foreach \b in {ProfAsp,EduComp,HEI,InfoTech,TechPres,StratPlan,LLL,Design,EnvImpact,IntCoop,SustDesign,QC,Economics,KnowTrans,LearnObj,EHEA,BudgetCtrl,TechTransfer}
    {\draw[egp] (\a) -- (\b);}}
\end{pgfonlayer}
\draw[frame] (18,18) rectangle (2061,935);
\end{tikzpicture}
\end{document}
